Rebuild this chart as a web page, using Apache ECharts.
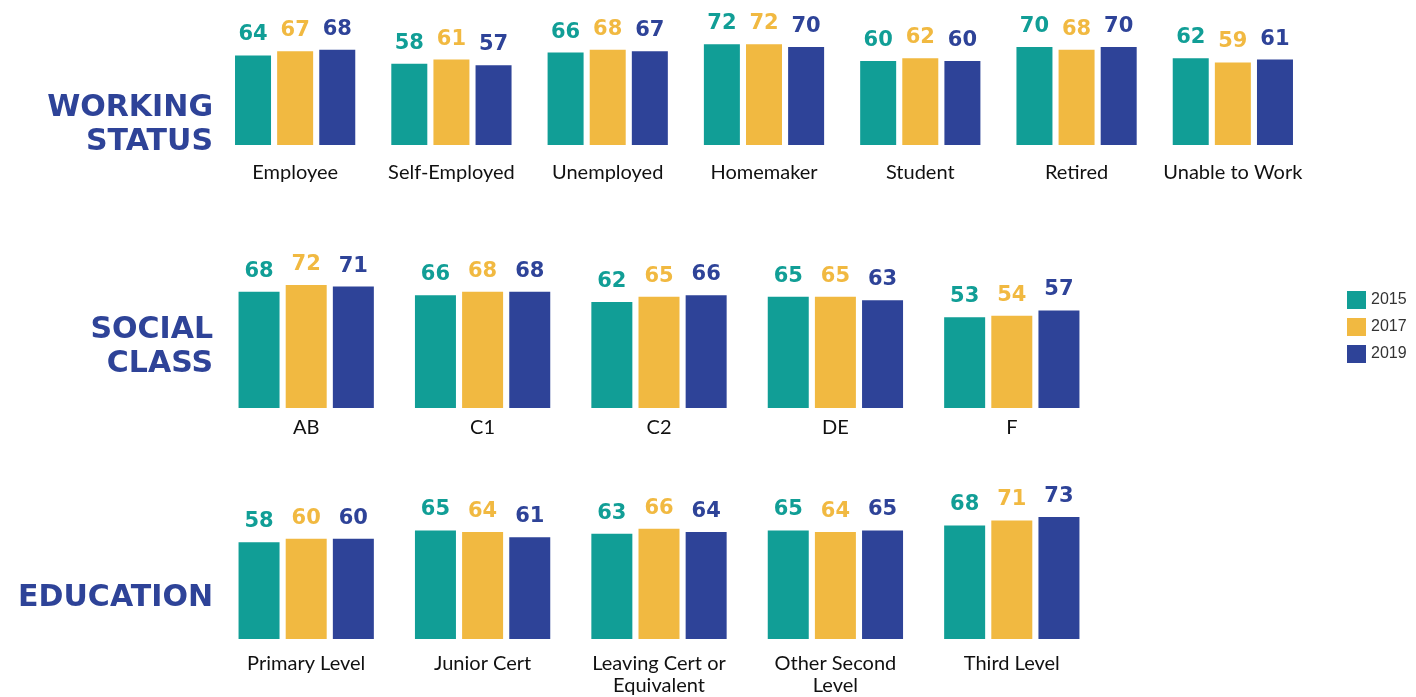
<!doctype html>
<html>
<head>
<meta charset="utf-8">
<title>Working status / social class / education</title>
<script src="https://cdn.jsdelivr.net/npm/echarts@6/dist/echarts.min.js"></script>
<style>
    html,body{
        margin: 0;
        width: 100%;
        height: 100%;
        background: #fff;
    }
    #main{
        width: 1416px;
        height: 697px;
    }
</style>
</head>
<body>
<div id="main"></div>
<script>
    // years / colours
    var years = ['2015', '2017', '2019'];
    var colors = ['#119e96', '#f1b941', '#2e4398'];

    // working status
    var workCats = ['Employee', 'Self-Employed', 'Unemployed', 'Homemaker', 'Student', 'Retired', 'Unable to Work'];
    var work2015 = [64, 58, 66, 72, 60, 70, 62];
    var work2017 = [67, 61, 68, 72, 62, 68, 59];
    var work2019 = [68, 57, 67, 70, 60, 70, 61];

    // social class
    var classCats = ['AB', 'C1', 'C2', 'DE', 'F'];
    var class2015 = [68, 66, 62, 65, 53];
    var class2017 = [72, 68, 65, 65, 54];
    var class2019 = [71, 68, 66, 63, 57];

    // education
    var eduCats = ['Primary Level', 'Junior Cert', 'Leaving Cert or\nEquivalent', 'Other Second\nLevel', 'Third Level'];
    var edu2015 = [58, 65, 63, 65, 68];
    var edu2017 = [60, 64, 66, 64, 71];
    var edu2019 = [60, 61, 64, 65, 73];

    var sectionTitles = ['WORKING\nSTATUS', 'SOCIAL\nCLASS', 'EDUCATION'];

    var rows = [
        {cats: workCats, data: [work2015, work2017, work2019], barWidth: 36, barGap: '17%', margin: 17},
        {cats: classCats, data: [class2015, class2017, class2019], barWidth: 41, barGap: '15%', margin: 9},
        {cats: eduCats, data: [edu2015, edu2017, edu2019], barWidth: 41, barGap: '15%', margin: 14}
    ];

    var grids = [
        {left: 217, width: 1094, top: 5, height: 140},
        {left: 218, width: 882, top: 237, height: 171},
        {left: 218, width: 882, top: 472, height: 171}
    ];

    var xAxes = [], yAxes = [], series = [];
    rows.forEach(function(row, i){
        xAxes.push({
            type: 'category',
            gridIndex: i,
            data: row.cats,
            axisLine: {show: false},
            axisTick: {show: false},
            axisLabel: {
                interval: 0,
                margin: row.margin,
                color: '#111',
                fontFamily: 'Lato',
                fontSize: 20,
                lineHeight: 22
            }
        });
        yAxes.push({
            type: 'value',
            gridIndex: i,
            min: 0,
            max: 100,
            show: false
        });
        years.forEach(function(y, k){
            series.push({
                name: y,
                type: 'bar',
                xAxisIndex: i,
                yAxisIndex: i,
                data: row.data[k],
                barWidth: row.barWidth,
                barGap: row.barGap,
                itemStyle: {color: colors[k]},
                label: {
                    show: true,
                    position: 'top',
                    distance: 10,
                    color: colors[k],
                    fontFamily: 'DejaVu Sans',
                    fontWeight: 'bold',
                    fontSize: 21
                }
            });
        });
    });

    var titleTops = [91, 313, 581];
    var graphics = sectionTitles.map(function(t, i){
        return {
            type: 'text',
            x: 213,
            y: titleTops[i],
            style: {
                text: t,
                fill: '#2e4398',
                font: 'bold 30px "DejaVu Sans"',
                align: 'right',
                verticalAlign: 'top',
                lineHeight: 34
            }
        };
    });

    var chart = echarts.init(document.getElementById('main'));
    chart.setOption({
        animation: false,
        legend: {
            data: years,
            orient: 'vertical',
            left: 1342,
            top: 286,
            icon: 'rect',
            itemWidth: 19,
            itemHeight: 18,
            itemGap: 9,
            textStyle: {
                color: '#333',
                fontFamily: 'Liberation Sans',
                fontSize: 16
            }
        },
        grid: grids,
        xAxis: xAxes,
        yAxis: yAxes,
        series: series,
        graphic: graphics
    });
</script>
</body>
</html>
